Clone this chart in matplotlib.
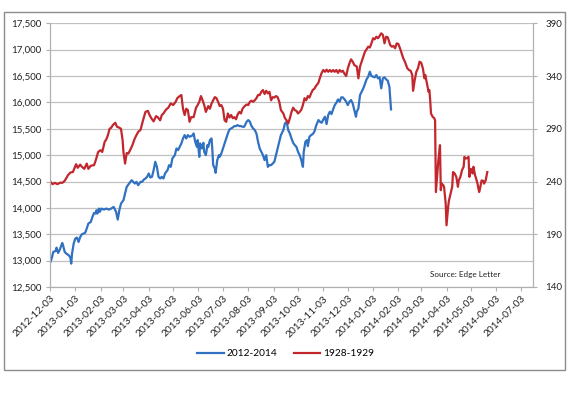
import pandas as pd
import numpy as np
import matplotlib
matplotlib.use("Agg")
import matplotlib.pyplot as plt
import matplotlib.dates as mdates
from matplotlib.patches import Rectangle
from matplotlib.ticker import FuncFormatter, MultipleLocator

plt.rcParams["font.family"] = ["Lato", "DejaVu Sans"]

# DJIA 2012-2014 (left axis)
blue_dates = [
    "2012-12-03", "2012-12-05", "2012-12-07", "2012-12-10", "2012-12-11", "2012-12-13", "2012-12-15",
    "2012-12-18", "2012-12-19", "2012-12-21", "2012-12-23", "2012-12-26", "2012-12-28", "2012-12-29",
    "2012-12-30", "2013-01-01", "2013-01-03", "2013-01-05", "2013-01-07", "2013-01-09", "2013-01-11",
    "2013-01-13", "2013-01-15", "2013-01-17", "2013-01-19", "2013-01-22", "2013-01-24", "2013-01-26",
    "2013-01-28", "2013-01-29", "2013-01-30", "2013-02-01", "2013-02-02", "2013-02-04", "2013-02-07",
    "2013-02-10", "2013-02-13", "2013-02-16", "2013-02-19", "2013-02-21", "2013-02-22", "2013-02-24",
    "2013-02-26", "2013-02-28", "2013-03-03", "2013-03-05", "2013-03-07", "2013-03-10", "2013-03-13",
    "2013-03-15", "2013-03-17", "2013-03-19", "2013-03-21", "2013-03-24", "2013-03-26", "2013-03-28",
    "2013-03-30", "2013-04-01", "2013-04-03", "2013-04-05", "2013-04-07", "2013-04-09", "2013-04-11",
    "2013-04-13", "2013-04-15", "2013-04-17", "2013-04-19", "2013-04-21", "2013-04-23", "2013-04-26",
    "2013-04-28", "2013-04-30", "2013-05-02", "2013-05-05", "2013-05-07", "2013-05-09", "2013-05-11",
    "2013-05-13", "2013-05-15", "2013-05-17", "2013-05-19", "2013-05-21", "2013-05-23", "2013-05-25",
    "2013-05-27", "2013-05-28", "2013-05-30", "2013-06-01", "2013-06-02", "2013-06-04", "2013-06-05",
    "2013-06-07", "2013-06-09", "2013-06-10", "2013-06-12", "2013-06-14", "2013-06-15", "2013-06-17",
    "2013-06-19", "2013-06-20", "2013-06-21", "2013-06-23", "2013-06-24", "2013-06-26", "2013-06-28",
    "2013-06-29", "2013-07-01", "2013-07-03", "2013-07-05", "2013-07-07", "2013-07-09", "2013-07-11",
    "2013-07-13", "2013-07-15", "2013-07-17", "2013-07-19", "2013-07-21", "2013-07-23", "2013-07-25",
    "2013-07-27", "2013-07-29", "2013-08-01", "2013-08-03", "2013-08-05", "2013-08-07", "2013-08-09",
    "2013-08-11", "2013-08-13", "2013-08-15", "2013-08-17", "2013-08-19", "2013-08-21", "2013-08-23",
    "2013-08-25", "2013-08-27", "2013-08-29", "2013-08-31", "2013-09-02", "2013-09-04", "2013-09-06",
    "2013-09-08", "2013-09-10", "2013-09-12", "2013-09-15", "2013-09-17", "2013-09-19", "2013-09-21",
    "2013-09-23", "2013-09-25", "2013-09-27", "2013-09-29", "2013-10-01", "2013-10-03", "2013-10-05",
    "2013-10-07", "2013-10-09", "2013-10-10", "2013-10-12", "2013-10-14", "2013-10-15", "2013-10-17",
    "2013-10-19", "2013-10-21", "2013-10-23", "2013-10-25", "2013-10-28", "2013-10-30", "2013-11-01",
    "2013-11-03", "2013-11-05", "2013-11-07", "2013-11-09", "2013-11-11", "2013-11-13", "2013-11-15",
    "2013-11-17", "2013-11-19", "2013-11-21", "2013-11-23", "2013-11-25", "2013-11-27", "2013-11-29",
    "2013-12-01", "2013-12-03", "2013-12-05", "2013-12-07", "2013-12-09", "2013-12-11", "2013-12-13",
    "2013-12-14", "2013-12-16", "2013-12-18", "2013-12-20", "2013-12-22", "2013-12-24", "2013-12-26",
    "2013-12-28", "2013-12-30", "2014-01-01", "2014-01-03", "2014-01-05", "2014-01-07", "2014-01-09",
    "2014-01-11", "2014-01-13", "2014-01-15", "2014-01-17", "2014-01-19", "2014-01-21", "2014-01-23",
    "2014-01-25",
]
blue_vals = [
    12956, 13038, 13165, 13184, 13247, 13146, 13209,
    13335, 13291, 13165, 13133, 13101, 13057, 12943,
    13133, 13323, 13418, 13437, 13354, 13449, 13500,
    13513, 13525, 13608, 13703, 13734, 13829, 13905,
    13892, 13956, 13892, 13987, 13924, 13987, 13968,
    13987, 13968, 13987, 14019, 13956, 13924, 13778,
    13956, 14082, 14145, 14272, 14399, 14462, 14525,
    14494, 14462, 14494, 14430, 14494, 14494, 14538,
    14557, 14589, 14652, 14576, 14589, 14715, 14874,
    14778, 14589, 14557, 14589, 14557, 14652, 14715,
    14810, 14778, 14937, 15000, 15127, 15095, 15158,
    15222, 15316, 15380, 15316, 15380, 15348, 15361,
    15380, 15411, 15253, 15158, 15285, 14968, 15222,
    15127, 15234, 15063, 15000, 15190, 15158, 15285,
    15316, 15095, 14810, 14747, 14665, 14905, 15000,
    14968, 15032, 15127, 15222, 15316, 15411, 15487,
    15506, 15525, 15551, 15551, 15570, 15551, 15551,
    15538, 15538, 15633, 15665, 15633, 15551, 15506,
    15475, 15411, 15253, 15127, 15063, 15000, 14905,
    15000, 14778, 14810, 14810, 14842, 14874, 15000,
    15127, 15253, 15380, 15475, 15601, 15633, 15475,
    15411, 15316, 15234, 15190, 15158, 15063, 15000,
    14905, 14778, 15063, 15253, 15285, 15171, 15348,
    15380, 15399, 15443, 15551, 15665, 15633, 15614,
    15677, 15728, 15589, 15760, 15823, 15778, 15867,
    15949, 15994, 16057, 16013, 16095, 16095, 16057,
    16013, 15949, 16013, 16044, 15981, 15854, 15728,
    15823, 15886, 16139, 16203, 16266, 16348, 16437,
    16487, 16582, 16500, 16487, 16475, 16519, 16456,
    16475, 16266, 16456, 16475, 16437, 16411, 16297,
    15867,
]

# DJIA 1928-1929 shifted onto the same calendar (right axis)
red_dates = [
    "2012-12-03", "2012-12-06", "2012-12-09", "2012-12-12", "2012-12-16", "2012-12-18", "2012-12-21",
    "2012-12-25", "2012-12-28", "2012-12-31", "2013-01-04", "2013-01-06", "2013-01-09", "2013-01-11",
    "2013-01-14", "2013-01-17", "2013-01-19", "2013-01-22", "2013-01-26", "2013-01-28", "2013-01-31",
    "2013-02-03", "2013-02-05", "2013-02-08", "2013-02-10", "2013-02-12", "2013-02-14", "2013-02-16",
    "2013-02-18", "2013-02-21", "2013-02-23", "2013-02-26", "2013-02-28", "2013-03-02", "2013-03-03",
    "2013-03-05", "2013-03-07", "2013-03-09", "2013-03-12", "2013-03-14", "2013-03-17", "2013-03-21",
    "2013-03-24", "2013-03-27", "2013-03-30", "2013-04-02", "2013-04-04", "2013-04-07", "2013-04-09",
    "2013-04-12", "2013-04-14", "2013-04-17", "2013-04-19", "2013-04-21", "2013-04-24", "2013-04-27",
    "2013-04-30", "2013-05-03", "2013-05-06", "2013-05-08", "2013-05-11", "2013-05-13", "2013-05-15",
    "2013-05-17", "2013-05-19", "2013-05-21", "2013-05-23", "2013-05-25", "2013-05-28", "2013-05-31",
    "2013-06-02", "2013-06-04", "2013-06-06", "2013-06-08", "2013-06-10", "2013-06-12", "2013-06-15",
    "2013-06-17", "2013-06-19", "2013-06-21", "2013-06-23", "2013-06-25", "2013-06-27", "2013-06-29",
    "2013-07-01", "2013-07-03", "2013-07-05", "2013-07-07", "2013-07-09", "2013-07-11", "2013-07-13",
    "2013-07-15", "2013-07-17", "2013-07-19", "2013-07-21", "2013-07-23", "2013-07-25", "2013-07-27",
    "2013-07-29", "2013-08-01", "2013-08-03", "2013-08-05", "2013-08-07", "2013-08-09", "2013-08-11",
    "2013-08-13", "2013-08-15", "2013-08-17", "2013-08-19", "2013-08-21", "2013-08-23", "2013-08-25",
    "2013-08-27", "2013-08-29", "2013-08-31", "2013-09-02", "2013-09-04", "2013-09-06", "2013-09-08",
    "2013-09-10", "2013-09-12", "2013-09-15", "2013-09-17", "2013-09-19", "2013-09-21", "2013-09-23",
    "2013-09-25", "2013-09-27", "2013-09-29", "2013-10-01", "2013-10-03", "2013-10-05", "2013-10-07",
    "2013-10-09", "2013-10-11", "2013-10-13", "2013-10-15", "2013-10-17", "2013-10-19", "2013-10-21",
    "2013-10-23", "2013-10-25", "2013-10-28", "2013-10-30", "2013-11-01", "2013-11-03", "2013-11-05",
    "2013-11-07", "2013-11-09", "2013-11-11", "2013-11-13", "2013-11-15", "2013-11-17", "2013-11-19",
    "2013-11-21", "2013-11-23", "2013-11-25", "2013-11-27", "2013-11-29", "2013-12-01", "2013-12-03",
    "2013-12-05", "2013-12-07", "2013-12-09", "2013-12-11", "2013-12-14", "2013-12-16", "2013-12-18",
    "2013-12-20", "2013-12-22", "2013-12-24", "2013-12-26", "2013-12-28", "2013-12-30", "2014-01-01",
    "2014-01-03", "2014-01-05", "2014-01-07", "2014-01-09", "2014-01-11", "2014-01-13", "2014-01-15",
    "2014-01-17", "2014-01-19", "2014-01-21", "2014-01-24", "2014-01-26", "2014-01-28", "2014-01-30",
    "2014-02-01", "2014-02-03", "2014-02-05", "2014-02-07", "2014-02-09", "2014-02-11", "2014-02-14",
    "2014-02-16", "2014-02-18", "2014-02-20", "2014-02-21", "2014-02-23", "2014-02-25", "2014-02-27",
    "2014-03-01", "2014-03-03", "2014-03-05", "2014-03-07", "2014-03-08", "2014-03-10", "2014-03-12",
    "2014-03-13", "2014-03-14", "2014-03-15", "2014-03-17", "2014-03-19", "2014-03-20", "2014-03-21",
    "2014-03-23", "2014-03-24", "2014-03-26", "2014-03-27", "2014-03-28", "2014-03-30", "2014-03-31",
    "2014-04-02", "2014-04-03", "2014-04-05", "2014-04-06", "2014-04-08", "2014-04-10", "2014-04-11",
    "2014-04-13", "2014-04-15", "2014-04-17", "2014-04-18", "2014-04-20", "2014-04-22", "2014-04-24",
    "2014-04-25", "2014-04-26", "2014-04-28", "2014-04-30", "2014-05-01", "2014-05-03", "2014-05-05",
    "2014-05-06", "2014-05-08", "2014-05-10", "2014-05-11", "2014-05-13", "2014-05-14", "2014-05-16",
    "2014-05-18", "2014-05-19", "2014-05-21", "2014-05-23",
]
red_vals = [
    240.3, 237.5, 238.7, 237.5, 239.0, 238.7, 240.6,
    246.0, 248.5, 249.0, 256.4, 253.0, 256.0, 254.0,
    252.0, 257.0, 252.0, 255.0, 255.5, 260.0, 268.0,
    269.7, 268.0, 277.6, 280.0, 284.0, 290.0, 291.0,
    293.5, 295.7, 292.0, 291.0, 290.0, 279.0, 268.0,
    257.0, 267.0, 266.5, 271.0, 274.5, 281.0, 287.0,
    289.0, 298.0, 306.0, 307.0, 303.0, 299.0, 297.0,
    302.0, 301.0, 298.0, 303.0, 304.5, 308.0, 310.0,
    314.0, 312.5, 315.6, 319.0, 321.0, 322.0, 309.0,
    303.0, 309.0, 307.7, 296.6, 301.0, 301.0, 310.0,
    312.5, 315.6, 321.0, 317.0, 312.5, 306.0, 311.5,
    309.0, 314.0, 317.0, 320.0, 319.0, 315.6, 311.5,
    312.5, 309.0, 298.0, 296.6, 304.5, 300.7, 303.0,
    300.0, 301.0, 299.0, 303.6, 306.0, 304.5, 309.0,
    311.0, 313.0, 312.5, 315.6, 316.6, 315.6, 317.0,
    319.0, 322.0, 322.0, 325.0, 326.7, 323.0, 326.0,
    323.5, 325.0, 317.0, 320.0, 319.6, 321.0, 320.0,
    315.6, 307.7, 304.5, 300.0, 298.0, 295.0, 300.0,
    306.0, 310.0, 307.7, 307.0, 304.5, 306.0, 308.0,
    312.5, 319.0, 317.0, 321.0, 319.6, 323.5, 326.7,
    328.0, 330.5, 333.6, 338.7, 343.0, 345.7, 344.0,
    346.0, 344.0, 345.7, 344.0, 345.7, 344.0, 345.7,
    343.0, 345.7, 344.0, 345.0, 342.0, 340.0, 347.0,
    352.0, 355.8, 353.6, 350.4, 349.0, 337.8, 349.0,
    353.6, 358.0, 363.0, 365.3, 367.8, 367.0, 371.0,
    375.8, 374.8, 377.3, 375.8, 378.0, 380.5, 379.0,
    371.0, 377.3, 376.7, 369.4, 367.8, 368.5, 366.3,
    371.0, 370.4, 366.3, 361.5, 356.8, 353.6, 347.3,
    345.7, 345.0, 341.0, 326.0, 336.0, 344.0, 347.3,
    353.6, 352.6, 347.3, 337.8, 341.0, 333.0, 325.0,
    326.6, 317.0, 304.5, 301.4, 300.0, 298.0, 230.0,
    250.7, 260.0, 274.5, 231.8, 238.0, 236.6, 235.0,
    219.0, 198.5, 216.0, 222.0, 228.6, 235.0, 249.0,
    247.6, 244.4, 235.0, 241.0, 244.4, 250.7, 254.0,
    263.4, 262.0, 262.0, 263.4, 244.4, 252.0, 247.6,
    254.0, 246.0, 241.0, 238.0, 230.0, 233.0, 241.0,
    240.6, 238.0, 241.0, 249.0,
]

right_ticks = [140, 190, 240, 290, 340, 390]
month_ticks = pd.date_range("2012-12-03", "2014-07-03", freq=pd.DateOffset(months=1))

blue_x = pd.to_datetime(blue_dates)
red_x = pd.to_datetime(red_dates)

fig = plt.figure(figsize=(5.69, 3.98), dpi=100)
fig.patches.append(Rectangle((0.007, 0.0704), 0.986, 0.8995, transform=fig.transFigure,
                             fill=False, edgecolor="#8c8c8c", linewidth=1.0))
ax = fig.add_axes([0.0879, 0.2789, 0.8488, 0.6626])
ax2 = ax.twinx()

ax.plot(blue_x, blue_vals, color="#3171c2", linewidth=1.6, label="2012-2014")
ax2.plot(red_x, red_vals, color="#c1272d", linewidth=1.6, label="1928-1929")

ax.set_xlim(pd.Timestamp("2012-12-03"), pd.Timestamp("2014-07-18"))
ax.set_ylim(12500, 17500)
ax2.set_ylim(140, 390)
ax.yaxis.set_major_locator(MultipleLocator(500))
ax2.set_yticks(right_ticks)
ax.yaxis.set_major_formatter(FuncFormatter(lambda v, p: f"{v:,.0f}"))
ax.grid(axis="y", color="#c0c0c0", linewidth=0.9)
ax.set_axisbelow(True)

ax.set_xticks(month_ticks)
ax.xaxis.set_major_formatter(mdates.DateFormatter("%Y-%m-%d"))
for lab in ax.get_xticklabels():
    lab.set_rotation(45)
    lab.set_ha("right")
    lab.set_rotation_mode("anchor")

for a in (ax, ax2):
    for s in a.spines.values():
        s.set_color("#b0b0b0")
    a.spines["top"].set_visible(False)
    a.tick_params(colors="#b0b0b0", labelcolor="#222222", labelsize=7, length=3, width=0.8)
ax.tick_params(axis="x", pad=2, labelsize=7.3)
ax.tick_params(axis="y", pad=3)
ax2.tick_params(axis="y", pad=6)

ax.text(0.86, 0.034, "Source: Edge Letter", transform=ax.transAxes, fontsize=5.9,
        color="#222222", ha="center", va="bottom")

h1, l1 = ax.get_legend_handles_labels()
h2, l2 = ax2.get_legend_handles_labels()
fig.legend(h1 + h2, l1 + l2, loc="center", bbox_to_anchor=(0.502, 0.111), ncol=2,
           frameon=False, fontsize=7.3, handlelength=2.6, handletextpad=0.3, columnspacing=1.6)

fig.savefig("out.png", dpi=100)
